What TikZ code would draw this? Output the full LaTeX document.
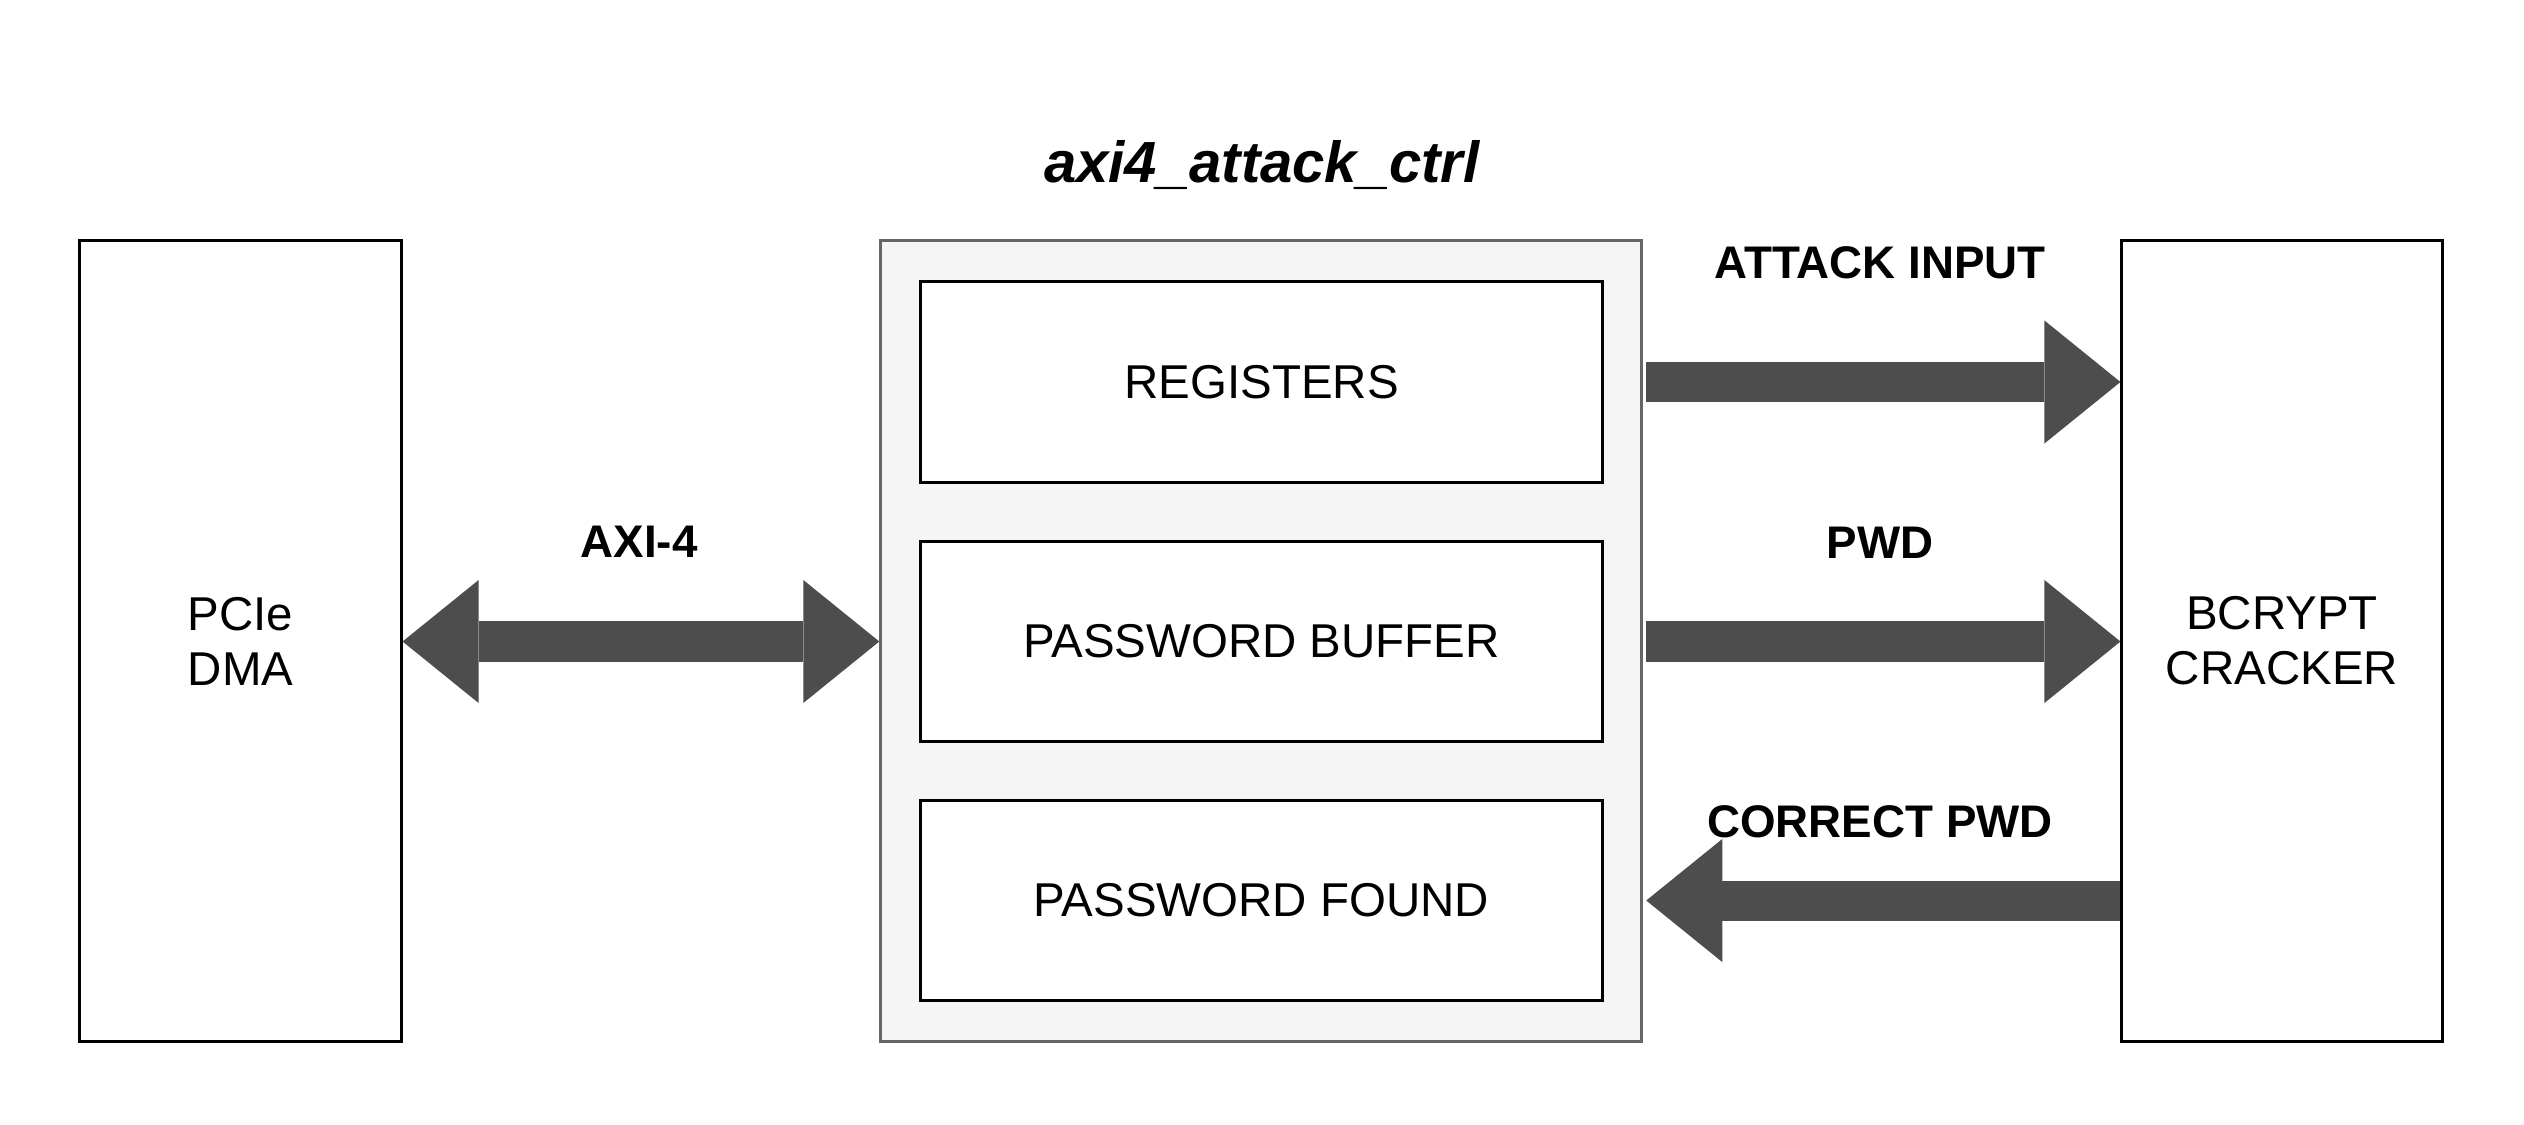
\documentclass[tikz,border=0pt]{standalone}
\usepackage{fontspec}
\setmainfont{Liberation Sans}
\usetikzlibrary{arrows.meta,positioning}
\definecolor{arrowgray}{HTML}{4D4D4D}
\definecolor{ctrlfill}{HTML}{F5F5F5}
\definecolor{ctrldraw}{HTML}{666666}
\tikzset{
  block/.style={draw=black, line width=0.85pt, fill=white, inner sep=0pt, align=center,
    font=\fontsize{13.5}{15.6}\selectfont},
  sublock/.style={block, minimum width=6.81cm, minimum height=2cm},
  siglabel/.style={anchor=base, font=\bfseries\fontsize{13}{15.6}\selectfont},
  fathead/.tip={Triangle[length=0.76cm, width=1.23cm, line width=0pt]},
  fatarrow/.style={arrowgray, line width=0.4cm, -fathead},
}

\begin{document}
\begin{tikzpicture}[x=0.01cm, y=-0.01cm]
  \useasboundingbox (0,0) rectangle (2524,1124);
  % blocks
  \node[block, minimum width=3.21cm, minimum height=8cm] (pcie) at (240.5,641) {PCIe\\DMA};
  \node[draw=ctrldraw, fill=ctrlfill, line width=0.85pt, minimum width=7.6cm, minimum height=8cm] (ctrl) at (1261,641) {};
  \node[sublock] (regs) at (1261.5,382) {REGISTERS};
  \node[sublock] (pwdbuf) at (1261.5,641.5) {PASSWORD BUFFER};
  \node[sublock] (pwdfound) at (1261.5,900.5) {PASSWORD FOUND};
  \node[block, minimum width=3.2cm, minimum height=8cm] (bcrypt) at (2282,641) {BCRYPT\\CRACKER};
  \node[anchor=base, font=\bfseries\itshape\fontsize{16.5}{19}\selectfont] (title) at (1262,182) {axi4\_attack\_ctrl};
  % signals
  \draw[fatarrow, fathead-fathead] (pcie.east |- pwdbuf) -- (ctrl.west |- pwdbuf);
  \draw[fatarrow, shorten <=0.85pt] (ctrl.east |- regs) -- (bcrypt.west |- regs);
  \draw[fatarrow, shorten <=0.85pt] (ctrl.east |- pwdbuf) -- (bcrypt.west |- pwdbuf);
  \draw[fatarrow, shorten >=1pt] (bcrypt.west |- pwdfound) -- (ctrl.east |- pwdfound);
  \node[siglabel] (axilbl) at (639,557) {AXI-4};
  \node[siglabel] (attacklbl) at (1880,278) {ATTACK INPUT};
  \node[siglabel] (pwdlbl) at (1880,558) {PWD};
  \node[siglabel] (correctlbl) at (1880,837) {CORRECT PWD};
\end{tikzpicture}
\end{document}
